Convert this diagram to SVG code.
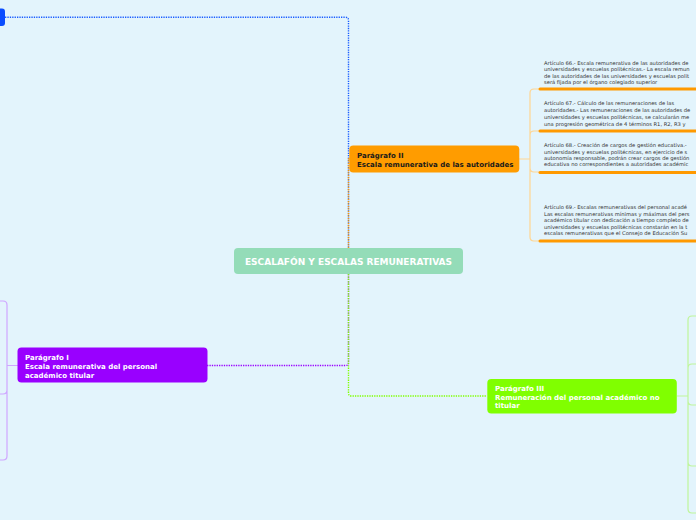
<svg xmlns="http://www.w3.org/2000/svg" width="696" height="520" viewBox="0 0 696 520">
<style>
.dot{fill:none;stroke-width:1.4;stroke-dasharray:1.3 1.1}
.br{fill:none;stroke-width:1.2}
.t{font-family:"DejaVu Sans",Verdana,sans-serif}
.nt{font-size:7px;font-weight:bold}
.ct{font-size:9px;font-weight:bold;fill:#ffffff}
.at{font-size:5.2px;fill:#333333}
.ul{stroke:#ff9900;stroke-width:3;stroke-linecap:round}
</style>
<rect x="0" y="0" width="696" height="520" fill="#e3f4fc"/>
<g id="connectors">
  <path class="dot" stroke="#1a5cff" d="M5,17.3 H345.5 Q348.5,17.3 348.5,20.3 V248"/>
  <path class="dot" stroke="#ff9900" d="M348.5,248 V159 H350"/>
  <path class="dot" stroke="#9900ff" d="M348.5,274 V362.5 Q348.5,365.5 345.5,365.5 H207"/>
  <path class="dot" stroke="#80ff00" d="M348.5,274 V393 Q348.5,396 351.5,396 H487"/>
  <path class="br" stroke="#ffd591" d="M519,159 H530 M530,159 V93 Q530,89 534,89 H540 M530,159 V135 Q530,131 534,131 H540 M530,159 V168 Q530,172 534,172 H540 M530,159 V237 Q530,241 534,241 H540"/>
  <path class="br" stroke="#cfa6ff" d="M18,365.5 H7 M7,365.5 V305 Q7,301 3,301 H0 M7,365.5 V390 Q7,394 3,394 H0 M7,365.5 V456 Q7,460 3,460 H0"/>
  <path class="br" stroke="#bff59a" d="M677,396 H688 M688,396 V320 Q688,316 692,316 H696 M688,396 V368 Q688,364 692,364 H696 M688,396 V401 Q688,405 692,405 H696 M688,396 V462 Q688,466 692,466 H696 M688,396 V509 Q688,513 692,513 H696"/>
</g>
<g id="node-blue">
  <rect x="-6" y="8.5" width="11" height="17.5" rx="3" fill="#0a4dff"/>
</g>
<g id="node-central">
  <rect x="234" y="248" width="229" height="26" rx="4" fill="#94dcb8"/>
  <text class="t ct" x="348.5" y="265.2" text-anchor="middle">ESCALAFÓN Y ESCALAS REMUNERATIVAS</text>
</g>
<g id="node-p2">
  <rect x="349.3" y="145.5" width="170" height="27" rx="4" fill="#ff9c00"/>
  <text class="t nt" fill="#1a1a1a"><tspan x="357" y="158">Parágrafo II</tspan><tspan x="357" y="166.5">Escala remunerativa de las autoridades</tspan></text>
</g>
<g id="node-p1">
  <rect x="17.5" y="347.5" width="190" height="35" rx="4" fill="#9900ff"/>
  <text class="t nt" fill="#ffffff"><tspan x="25" y="360">Parágrafo I</tspan><tspan x="25" y="368.8">Escala remunerativa del personal</tspan><tspan x="25" y="377.6">académico titular</tspan></text>
</g>
<g id="node-p3">
  <rect x="487.3" y="379" width="189.5" height="34.5" rx="4" fill="#80ff00"/>
  <text class="t nt" fill="#ffffff"><tspan x="495" y="391.3">Parágrafo III</tspan><tspan x="495" y="399.6">Remuneración del personal académico no</tspan><tspan x="495" y="408.3">titular</tspan></text>
</g>
<g id="art66">
  <line class="ul" x1="540" y1="89" x2="698" y2="89"/>
  <text class="t at"><tspan x="544" y="64.5">Artículo 66.- Escala remunerativa de las autoridades de</tspan><tspan x="544" y="71">universidades y escuelas politécnicas.- La escala remun</tspan><tspan x="544" y="77.5">de las autoridades de las universidades y escuelas polit</tspan><tspan x="544" y="84">será fijada por el órgano colegiado superior</tspan></text>
</g>
<g id="art67">
  <line class="ul" x1="540" y1="131" x2="698" y2="131"/>
  <text class="t at"><tspan x="544" y="105.2">Artículo 67.- Cálculo de las remuneraciones de las</tspan><tspan x="544" y="112.4">autoridades.- Las remuneraciones de las autoridades de</tspan><tspan x="544" y="119.2">universidades y escuelas politécnicas, se calcularán me</tspan><tspan x="544" y="126">una progresión geométrica de 4 términos R1, R2, R3 y</tspan></text>
</g>
<g id="art68">
  <line class="ul" x1="540" y1="172.5" x2="698" y2="172.5"/>
  <text class="t at"><tspan x="544" y="147">Artículo 68.- Creación de cargos de gestión educativa.-</tspan><tspan x="544" y="153.5">universidades y escuelas politécnicas, en ejercicio de s</tspan><tspan x="544" y="159.8">autonomía responsable, podrán crear cargos de gestión</tspan><tspan x="544" y="166.3">educativa no correspondientes a autoridades académic</tspan></text>
</g>
<g id="art69">
  <line class="ul" x1="540" y1="241" x2="698" y2="241"/>
  <text class="t at"><tspan x="544" y="209">Artículo 69.- Escalas remunerativas del personal acadé</tspan><tspan x="544" y="215.6">Las escalas remunerativas mínimas y máximas del pers</tspan><tspan x="544" y="222.2">académico titular con dedicación a tiempo completo de</tspan><tspan x="544" y="228.6">universidades y escuelas politécnicas constarán en la t</tspan><tspan x="544" y="235">escalas remunerativas que el Consejo de Educación Su</tspan></text>
</g>
</svg>
